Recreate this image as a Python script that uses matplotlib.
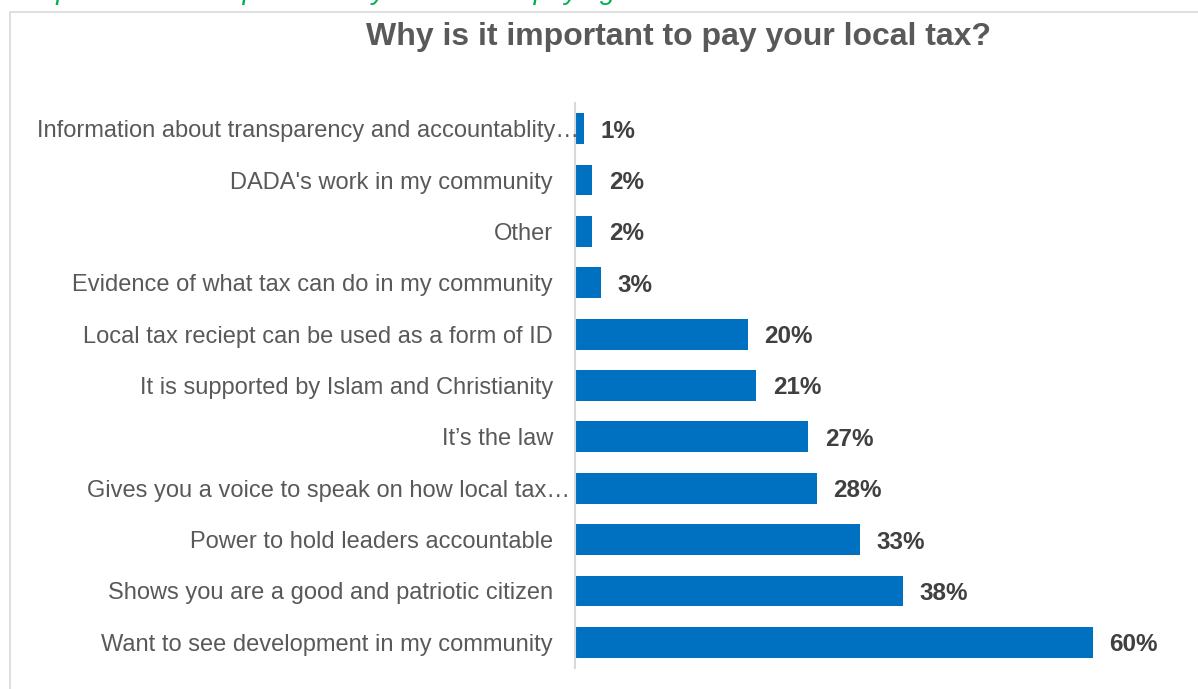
import matplotlib
matplotlib.use("Agg")
import matplotlib.pyplot as plt
from matplotlib.patches import Rectangle
from matplotlib.transforms import blended_transform_factory, offset_copy

plt.rcParams['font.family'] = ['Liberation Sans', 'DejaVu Sans']

categories = [
    "Information about transparency and accountablity\u2026",
    "DADA's work in my community",
    "Other",
    "Evidence of what tax can do in my community",
    "Local tax reciept can be used as a form of ID",
    "It is supported by Islam and Christianity",
    "It\u2019s the law",
    "Gives you a voice to speak on how local tax\u2026",
    "Power to hold leaders accountable",
    "Shows you are a good and patriotic citizen",
    "Want to see development in my community",
]
values = [1, 2, 2, 3, 20, 21, 27, 28, 33, 38, 60]
value_labels = [f"{v}%" for v in values]

title = "Why is it important to pay your local tax?"
caption = "Graph 4: Reasons provided by citizens for paying local tax"

W, H = 1198, 689
fig = plt.figure(figsize=(W / 100, H / 100), dpi=100)

# chart frame
fig.patches.append(Rectangle((10 / W, -0.01), 1.2, (H - 12) / H + 0.01,
                             transform=fig.transFigure, fill=False,
                             edgecolor="#d9d9d9", linewidth=1.2))

# caption sitting above the frame, running off the top edge
fig.text(10 / W, 1 + 1 / H, caption, color="#00b050", fontsize=20,
         style="italic", ha="left", va="baseline")

fig.text(678 / W, 1 - 37 / H, title, color="#595959", fontsize=23,
         fontweight="bold", ha="center", va="center")

ax = fig.add_axes([575 / W, (H - 668) / H, 561 / W, 565 / H])
ypos = list(range(len(categories)))
ax.barh(ypos, values, height=0.6, color="#0070c0")
ax.set_xlim(0, 65)
ax.set_ylim(len(categories) - 0.5, -0.5)
ax.set_yticks([])
ax.set_xticks([])
for s in ["top", "right", "bottom"]:
    ax.spines[s].set_visible(False)
ax.spines["left"].set_color("#d9d9d9")
ax.spines["left"].set_linewidth(1.5)

# category labels: right-aligned left of the axis; truncated ones spill
# a little further towards the bars
label_tr = blended_transform_factory(ax.transAxes, ax.transData)
for y, cat in zip(ypos, categories):
    shift = 0
    if cat.endswith("\u2026"):
        shift = 26 if y == 0 else 17
    tr = offset_copy(label_tr, fig=fig, x=(shift - 22) * 0.72, y=0, units="points")
    ax.text(0, y, cat, transform=tr, ha="right", va="center_baseline",
            fontsize=17, color="#595959")

for y, v, lab in zip(ypos, values, value_labels):
    ax.annotate(lab, (v, y), xytext=(12, 0), textcoords="offset points",
                ha="left", va="center_baseline", fontsize=17.5, fontweight="bold",
                color="#404040")

fig.savefig("out.png", dpi=100)
